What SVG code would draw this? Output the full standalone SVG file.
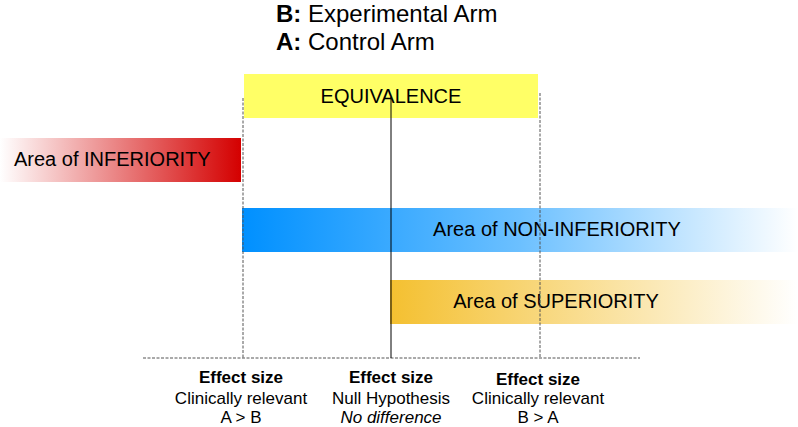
<svg xmlns="http://www.w3.org/2000/svg" width="798" height="427" viewBox="0 0 798 427">
<style>
text{font-family:"Liberation Sans",Arial,sans-serif;fill:#000}
.t{font-size:24px}
.b{font-size:20px}
.l{font-size:17px;text-anchor:middle}
.dash{stroke:#555;stroke-width:1;stroke-dasharray:3,1.5;fill:none}
</style>
<defs>
<linearGradient id="gInf" x1="0" x2="1" y1="0" y2="0"><stop offset="0" stop-color="#fff"/><stop offset="1" stop-color="#D40000"/></linearGradient>
<linearGradient id="gNon" x1="0" x2="1" y1="0" y2="0"><stop offset="0" stop-color="#0090FF"/><stop offset="0.5" stop-color="#6CC0FF"/><stop offset="1" stop-color="#fff"/></linearGradient>
<linearGradient id="gSup" x1="0" x2="1" y1="0" y2="0"><stop offset="0" stop-color="#F4C030"/><stop offset="1" stop-color="#fff"/></linearGradient>
</defs>
<g id="title">
<text class="t" x="276" y="22"><tspan font-weight="bold">B:</tspan> Experimental Arm</text>
<text class="t" x="276" y="50"><tspan font-weight="bold">A:</tspan> Control Arm</text>
</g>
<g id="equivalence">
<rect x="244" y="74" width="294" height="44" fill="#FFFF66"/>
<text class="b" x="391" y="103" text-anchor="middle">EQUIVALENCE</text>
</g>
<g id="inferiority">
<rect x="0" y="138" width="241" height="44" fill="url(#gInf)"/>
<text class="b" x="14" y="166">Area of INFERIORITY</text>
</g>
<g id="noninferiority">
<rect x="242" y="208" width="556" height="44" fill="url(#gNon)"/>
<text class="b" x="557" y="236" text-anchor="middle">Area of NON-INFERIORITY</text>
</g>
<g id="superiority">
<rect x="390" y="280" width="408" height="44" fill="url(#gSup)"/>
<text class="b" x="556" y="308" text-anchor="middle">Area of SUPERIORITY</text>
</g>
<g id="connectors">
<line class="dash" x1="143" y1="358" x2="640" y2="358"/>
<line class="dash" x1="243" y1="98" x2="243" y2="358"/>
<line class="dash" x1="540" y1="93" x2="540" y2="358"/>
<line x1="391" y1="97" x2="391" y2="358" stroke="#000" stroke-width="1"/>
</g>
<g id="label-left">
<text class="l" x="241" y="383" font-weight="bold">Effect size</text>
<text class="l" x="241" y="404">Clinically relevant</text>
<text class="l" x="241" y="423">A &gt; B</text>
</g>
<g id="label-center">
<text class="l" x="391" y="383" font-weight="bold">Effect size</text>
<text class="l" x="391" y="404">Null Hypothesis</text>
<text class="l" x="391" y="423" font-style="italic">No difference</text>
</g>
<g id="label-right">
<text class="l" x="538" y="385" font-weight="bold">Effect size</text>
<text class="l" x="538" y="404">Clinically relevant</text>
<text class="l" x="538" y="423">B &gt; A</text>
</g>
</svg>
